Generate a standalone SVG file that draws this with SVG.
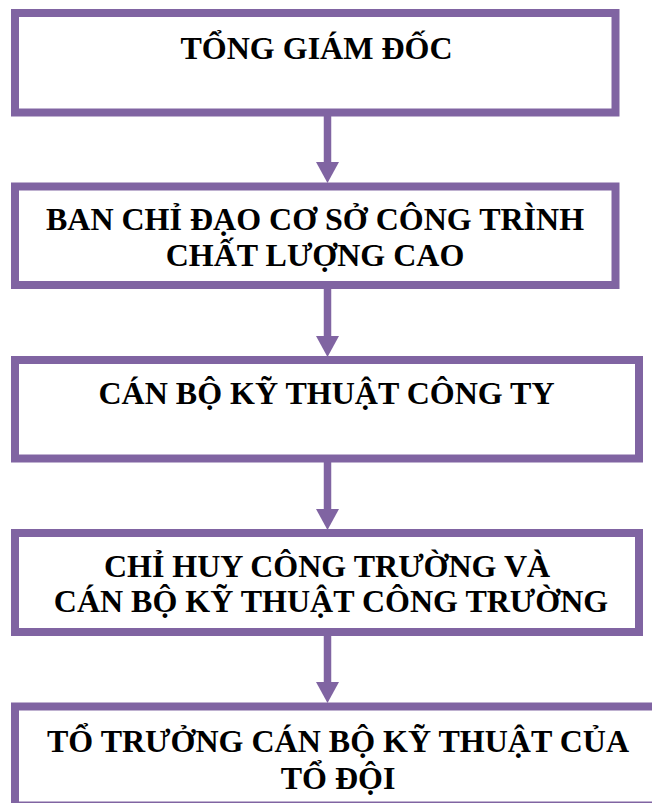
<svg xmlns="http://www.w3.org/2000/svg" width="652" height="803" viewBox="0 0 652 803">
<style>
.box{fill:#ffffff;stroke:#8064A2;stroke-width:8}
.t{font-family:"Liberation Serif","Times New Roman",serif;font-weight:bold;font-size:32px;fill:#000;text-anchor:middle}
.ln{stroke:#8064A2;stroke-width:7.5;fill:none}
.hd{fill:#8064A2}
</style>
<rect width="652" height="803" fill="#ffffff"/>
<g id="connectors">
<line class="ln" x1="327.5" y1="116" x2="327.5" y2="164"/>
<polygon class="hd" points="316,162 339,162 327.5,183"/>
<line class="ln" x1="327.5" y1="289" x2="327.5" y2="338"/>
<polygon class="hd" points="316,336 339,336 327.5,357"/>
<line class="ln" x1="327.5" y1="462" x2="327.5" y2="511"/>
<polygon class="hd" points="316,509 339,509 327.5,530"/>
<line class="ln" x1="327.5" y1="636" x2="327.5" y2="684"/>
<polygon class="hd" points="316,682 339,682 327.5,703"/>
</g>
<g id="node1">
<rect class="box" x="15" y="13" width="600.5" height="99.5"/>
<text class="t" x="316.5" y="59">TỔNG GIÁM ĐỐC</text>
</g>
<g id="node2">
<rect class="box" x="15" y="186.5" width="600.5" height="98.5"/>
<text class="t" x="315" y="230">BAN CHỈ ĐẠO CƠ SỞ CÔNG TRÌNH</text>
<text class="t" x="315" y="266">CHẤT LƯỢNG CAO</text>
</g>
<g id="node3">
<rect class="box" x="15" y="360" width="624" height="98.5"/>
<text class="t" x="326.5" y="404">CÁN BỘ KỸ THUẬT CÔNG TY</text>
</g>
<g id="node4">
<rect class="box" x="15" y="533" width="624" height="99"/>
<text class="t" x="327" y="577">CHỈ HUY CÔNG TRƯỜNG VÀ</text>
<text class="t" x="331" y="612">CÁN BỘ KỸ THUẬT CÔNG TRƯỜNG</text>
</g>
<g id="node5">
<rect class="box" x="15" y="706.5" width="660" height="99"/>
<text class="t" x="338" y="752">TỔ TRƯỞNG CÁN BỘ KỸ THUẬT CỦA</text>
<text class="t" x="338" y="789">TỔ ĐỘI</text>
</g>
</svg>
